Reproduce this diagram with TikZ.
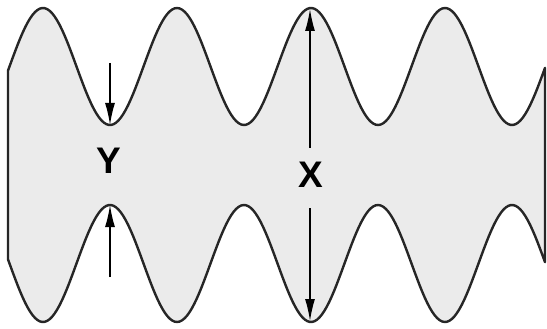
\documentclass[tikz,border=0pt]{standalone}
\usepackage{fontspec}
\usepackage{tikz}
\usetikzlibrary{arrows.meta,positioning}
\newfontfamily\lblfont{Liberation Sans}

\begin{document}
\begin{tikzpicture}[
  x=1pt,y=-1pt,
  band/.style={draw=black!85,line width=2.4pt,fill=gray!16,line join=round},
  dim/.style={line width=1.5pt,-{Latex[length=22pt,width=10pt]}},
  lbl/.style={font=\lblfont\bfseries\fontsize{37}{37}\selectfont,inner sep=0pt}]
\useasboundingbox (0,0) rectangle (547,329);
% wavy band, period 134
\draw[band] plot[domain=8:545,samples=220] (\x,{66.5-58.5*cos(2.6866*(\x-43))})
  -- plot[domain=545:8,samples=220] (\x,{263.5+58.5*cos(2.6866*(\x-43))}) -- cycle;
% labels
\node[lbl] (y) at (109,161) {Y};
\node[lbl] (x) at (311,175) {X};
% dimension ends
\coordinate (ya) at (110,63);
\coordinate (yb) at (110,125);
\coordinate (yc) at (110,277);
\coordinate (yd) at (110,205);
\coordinate (xa) at (310,148);
\coordinate (xb) at (310,9);
\coordinate (xc) at (310,208);
\coordinate (xd) at (310,321);
\draw[dim] (ya)--(yb);
\draw[dim] (yc)--(yd);
\draw[dim] (xa)--(xb);
\draw[dim] (xc)--(xd);
\end{tikzpicture}
\end{document}
